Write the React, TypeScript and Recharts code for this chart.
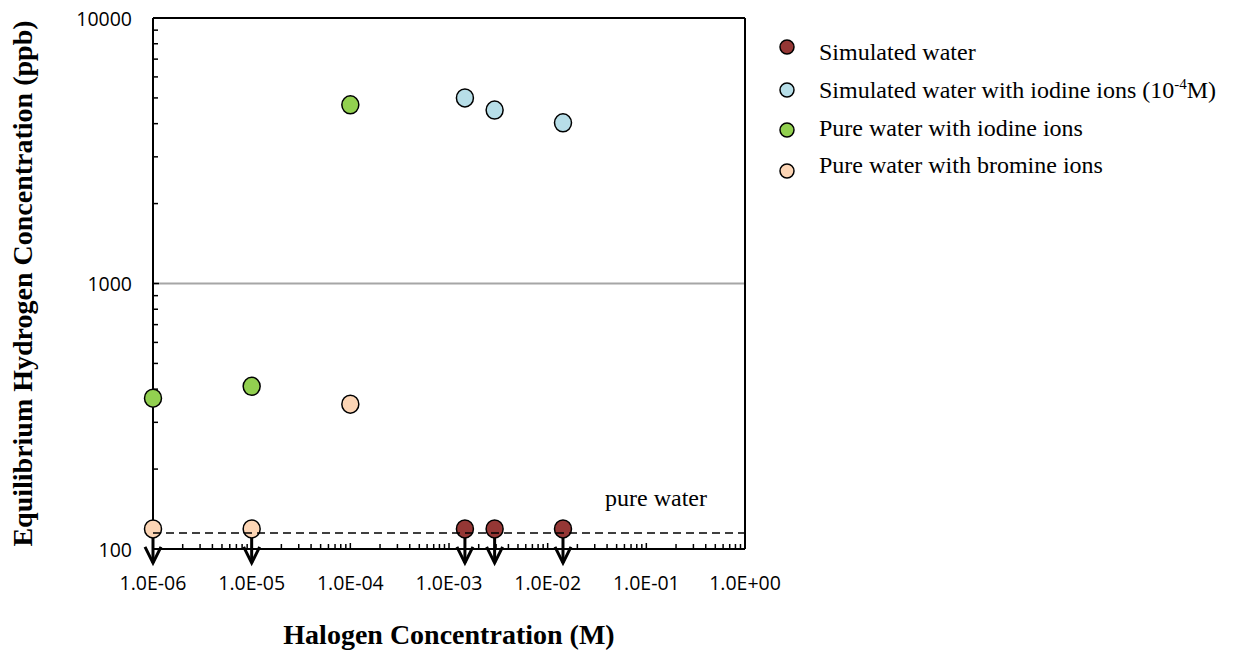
import React from 'react';
import { ScatterChart, Scatter, XAxis, YAxis, ReferenceLine, Legend } from 'recharts';

// ---------- data ----------
const simWaterX = [1.45e-3, 2.9e-3, 1.43e-2];
const simWaterY = [119, 119, 119];
const simWaterLimit = [true, true, true];

const simIodineX = [1.45e-3, 2.9e-3, 1.43e-2];
const simIodineY = [5000, 4500, 4030];
const simIodineLimit = [false, false, false];

const pureIodineX = [1e-6, 1e-5, 1e-4];
const pureIodineY = [370, 410, 4710];
const pureIodineLimit = [false, false, false];

const pureBromineX = [1e-6, 1e-5, 1e-4];
const pureBromineY = [119, 119, 351];
const pureBromineLimit = [true, true, false];

const pureWaterLevel = 115;
const pureWaterLabel = 'pure water';
const pureWaterLineX = [1e-6, 1];

const seriesNames = [
  'Simulated water',
  'Simulated water with iodine ions (10',
  'Pure water with iodine ions',
  'Pure water with bromine ions',
];
const seriesColors = ['#953735', '#B7DEE8', '#92D050', '#FCD5B5'];

const xMajorTicks = [1e-6, 1e-5, 1e-4, 1e-3, 1e-2, 1e-1, 1];
const xTickLabels = ['1.0E-06', '1.0E-05', '1.0E-04', '1.0E-03', '1.0E-02', '1.0E-01', '1.0E+00'];
const yMajorTicks = [100, 1000, 10000];
const yTickLabels = ['100', '1000', '10000'];
const minorMultipliers = [2, 3, 4, 5, 6, 7, 8, 9];

const xTitle = 'Halogen Concentration (M)';
const yTitle = 'Equilibrium Hydrogen Concentration (ppb)';

// ---------- derived tables ----------
const build = (xs: number[], ys: number[], lim: boolean[]) =>
  xs.map((x, i) => ({ x, y: ys[i], limit: lim[i] }));

const simWaterData = build(simWaterX, simWaterY, simWaterLimit);
const simIodineData = build(simIodineX, simIodineY, simIodineLimit);
const pureIodineData = build(pureIodineX, pureIodineY, pureIodineLimit);
const pureBromineData = build(pureBromineX, pureBromineY, pureBromineLimit);
const pureWaterLine = pureWaterLineX.map((x) => ({ x, y: pureWaterLevel }));

const xAllTicks = [
  ...xMajorTicks,
  ...xMajorTicks.slice(0, -1).flatMap((d) => minorMultipliers.map((m) => m * d)),
];
const yAllTicks = [
  ...yMajorTicks,
  ...yMajorTicks.slice(0, -1).flatMap((d) => minorMultipliers.map((m) => m * d)),
];

const findMajor = (arr: number[], v: number) =>
  arr.findIndex((t) => Math.abs(t - v) / t < 1e-9);

const TICK_FONT = '"Open Sans", "Liberation Sans", sans-serif';
const SERIF = '"Liberation Serif", "Times New Roman", serif';

const XTick = (props: any) => {
  const { x, y, payload } = props;
  const idx = findMajor(xMajorTicks, payload.value);
  return (
    <g>
      <line x1={x} x2={x} y1={y} y2={y - (idx >= 0 ? 6 : 5)} stroke="#000" strokeWidth={1.5} />
      {idx >= 0 && (
        <text x={x} y={y + 33} textAnchor="middle" dominantBaseline="central" fontFamily={TICK_FONT} fontSize={19.5} fill="#000">
          {xTickLabels[idx]}
        </text>
      )}
    </g>
  );
};

const YTick = (props: any) => {
  const { x, y, payload } = props;
  const idx = findMajor(yMajorTicks, payload.value);
  return (
    <g>
      <line x1={x} x2={x + (idx >= 0 ? 6 : 5)} y1={y} y2={y} stroke="#000" strokeWidth={1.5} />
      {idx >= 0 && (
        <text x={x - 21} y={y} textAnchor="end" dominantBaseline="central" fontFamily={TICK_FONT} fontSize={19.5} fill="#000">
          {yTickLabels[idx]}
        </text>
      )}
    </g>
  );
};

const makeMarker = (fill: string) => (props: any) => {
  const { cx, cy, payload } = props;
  if (cx == null || cy == null) return <g />;
  return (
    <g>
      {payload && payload.limit && (
        <g stroke="#000" strokeWidth={3} fill="none">
          <line x1={cx} y1={cy} x2={cx} y2={cy + 34} />
          <polyline points={`${cx - 8},${cy + 18} ${cx},${cy + 34} ${cx + 8},${cy + 18}`} />
        </g>
      )}
      <ellipse cx={cx} cy={cy} rx={8.5} ry={9} fill={fill} stroke="#000" strokeWidth={1.5} />
    </g>
  );
};

const legendMarkerY = [22, 65, 105, 146];
const legendTextY = [35, 73, 111, 148];

const LegendContent = () => (
  <svg width={466} height={180} style={{ display: 'block' }}>
    {seriesNames.map((n, i) => (
      <g key={n}>
        <ellipse cx={17} cy={legendMarkerY[i]} rx={7} ry={7} fill={seriesColors[i]} stroke="#000" strokeWidth={1.5} />
        <text x={49} y={legendTextY[i]} fontFamily={SERIF} fontSize={24} fill="#000">
          {n}
          {i === 1 && (
            <>
              <tspan dy={-9} fontSize={15}>-4</tspan>
              <tspan dy={9}>M)</tspan>
            </>
          )}
        </text>
      </g>
    ))}
  </svg>
);

export default function App() {
  return (
    <div style={{ position: 'absolute', left: 0, top: 0, width: 1236, height: 650, background: '#fff' }}>
      <ScatterChart width={1236} height={650} margin={{ top: 18, right: 491, bottom: 61, left: 93 }}>
        <XAxis
          dataKey="x"
          type="number"
          scale="log"
          domain={[1e-6, 1]}
          ticks={xAllTicks}
          interval={0}
          height={40}
          tickSize={0}
          tickMargin={0}
          tick={XTick}
          axisLine={{ stroke: '#000', strokeWidth: 2 }}
          tickLine={false}
          label={{
            content: (p: any) => {
              const vb = p.viewBox || { x: 153, y: 549, width: 592, height: 40 };
              return (
                <text x={vb.x + vb.width / 2} y={vb.y + 85} textAnchor="middle" dominantBaseline="central" fontFamily={SERIF} fontWeight="bold" fontSize={28} fill="#000">
                  {xTitle}
                </text>
              );
            },
          }}
        />
        <YAxis
          dataKey="y"
          type="number"
          scale="log"
          domain={[100, 10000]}
          ticks={yAllTicks}
          interval={0}
          width={60}
          tickSize={0}
          tickMargin={0}
          tick={YTick}
          axisLine={{ stroke: '#000', strokeWidth: 2 }}
          tickLine={false}
          label={{
            content: (p: any) => {
              const vb = p.viewBox || { x: 93, y: 18, width: 60, height: 531 };
              const cx = vb.x - 71;
              const cy = vb.y + vb.height / 2;
              return (
                <text x={cx} y={cy} transform={`rotate(-90 ${cx} ${cy})`} textAnchor="middle" dominantBaseline="central" fontFamily={SERIF} fontWeight="bold" fontSize={28} fill="#000">
                  {yTitle}
                </text>
              );
            },
          }}
        />
        <ReferenceLine y={1000} stroke="#A6A6A6" strokeWidth={2} />
        <ReferenceLine y={10000} stroke="#000" strokeWidth={2} />
        <ReferenceLine x={1} stroke="#000" strokeWidth={2} />
        <ReferenceLine
          y={pureWaterLevel}
          stroke="none"
          label={{
            content: (p: any) => {
              const vb = p.viewBox || { x: 153, y: 533, width: 592 };
              return (
                <text x={vb.x + vb.width - 38} y={vb.y - 27} textAnchor="end" fontFamily={SERIF} fontSize={24} fill="#000">
                  {pureWaterLabel}
                </text>
              );
            },
          }}
        />
        <Scatter name={seriesNames[0]} data={simWaterData} shape={makeMarker(seriesColors[0])} isAnimationActive={false} />
        <Scatter name={seriesNames[1]} data={simIodineData} shape={makeMarker(seriesColors[1])} isAnimationActive={false} />
        <Scatter name={seriesNames[2]} data={pureIodineData} shape={makeMarker(seriesColors[2])} isAnimationActive={false} />
        <Scatter name={seriesNames[3]} data={pureBromineData} shape={makeMarker(seriesColors[3])} isAnimationActive={false} />
        <Scatter
          name="pure water level"
          data={pureWaterLine}
          line={{ stroke: '#000', strokeWidth: 1.5, strokeDasharray: '8 5' }}
          lineType="joint"
          shape={() => <g />}
          legendType="none"
          isAnimationActive={false}
        />
        <Legend
          layout="vertical"
          align="center"
          verticalAlign="middle"
          wrapperStyle={{ left: 770, top: 25, width: 466 }}
          content={LegendContent}
        />
      </ScatterChart>
    </div>
  );
}
